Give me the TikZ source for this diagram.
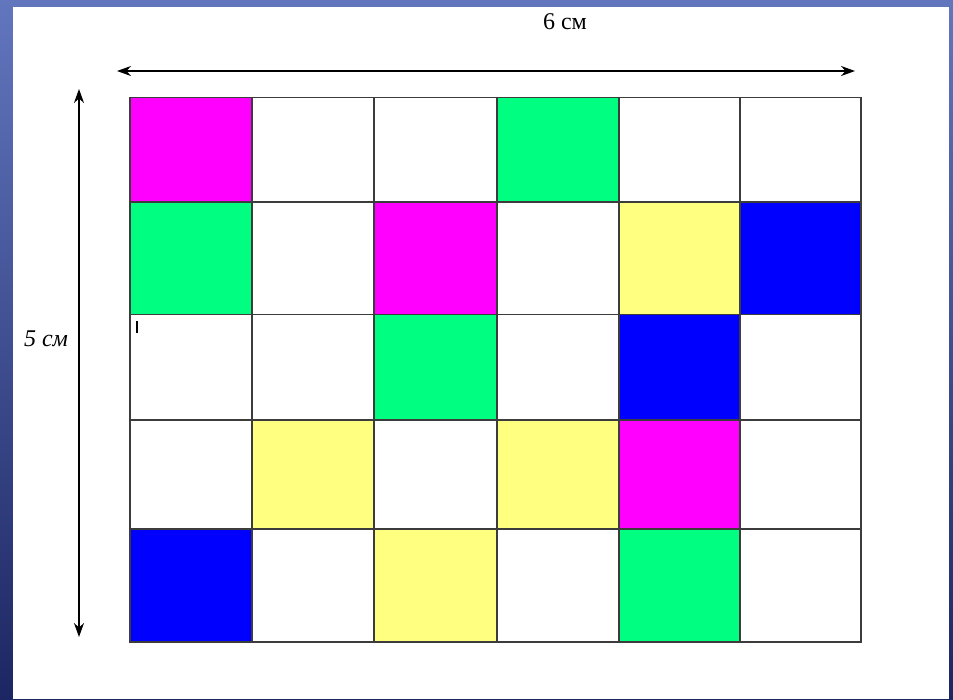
\documentclass[tikz,border=0pt]{standalone}
\usepackage{fontspec}
\setmainfont{Liberation Serif}
\usetikzlibrary{arrows.meta}
\definecolor{bgtop}{RGB}{98,118,190}
\definecolor{bgbot}{RGB}{28,38,98}
\definecolor{cM}{RGB}{255,0,255}
\definecolor{cG}{RGB}{0,255,128}
\definecolor{cY}{RGB}{255,255,128}
\definecolor{cB}{RGB}{0,0,255}
\definecolor{cW}{RGB}{255,255,255}
\definecolor{gridc}{RGB}{60,60,60}
\tikzset{
  cell/.style={draw=gridc, line width=1.3pt, inner sep=0pt, outer sep=0pt},
  dimarrow/.style={line width=1.8pt, black, {Stealth[length=14pt,width=10pt]}-{Stealth[length=14pt,width=10pt]}},
  dimtext/.style={font=\fontsize{24}{27}\selectfont, inner sep=0pt}
}
\begin{document}
\begin{tikzpicture}[x=1pt,y=-1pt]
\useasboundingbox (0,0) rectangle (953,699);
\shade[top color=bgtop, bottom color=bgbot] (0,0) rectangle (953,699);
\fill[white] (13,7) rectangle (949,699);
% grid cells
\foreach \r/\ya/\yb/\row in {1/97.5/202/{cM,cW,cW,cG,cW,cW},2/202/314.5/{cG,cW,cM,cW,cY,cB},3/314.5/420/{cW,cW,cG,cW,cB,cW},4/420/529/{cW,cY,cW,cY,cM,cW},5/529/642/{cB,cW,cY,cW,cG,cW}}{
  \foreach \col [count=\c] in \row {
    \pgfmathsetmacro\xa{{130,252,374,497,619,740,861}[\c-1]}
    \pgfmathsetmacro\xb{{130,252,374,497,619,740,861}[\c]}
    \node[cell, fill=\col, minimum width={(\xb-\xa)*1pt}, minimum height={(\yb-\ya)*1pt}] (c-\r-\c) at ({(\xa+\xb)/2},{(\ya+\yb)/2}) {};
  }
}
% dimension arrows
\coordinate (hl) at (117,71);
\coordinate (hr) at (855,71);
\draw[dimarrow] (hl) -- (hr);
\coordinate (vt) at (79,89);
\coordinate (vb) at (79,637);
\draw[dimarrow] (vt) -- (vb);
\node[dimtext] (wlab) at (565,22) {6 см};
\node[dimtext] (hlab) at (46,339) {\itshape 5 см};
% small mark
\coordinate (m1) at (137,321);
\coordinate (m2) at (137,333);
\draw[line width=1.5pt] (m1) -- (m2);
\end{tikzpicture}
\end{document}
